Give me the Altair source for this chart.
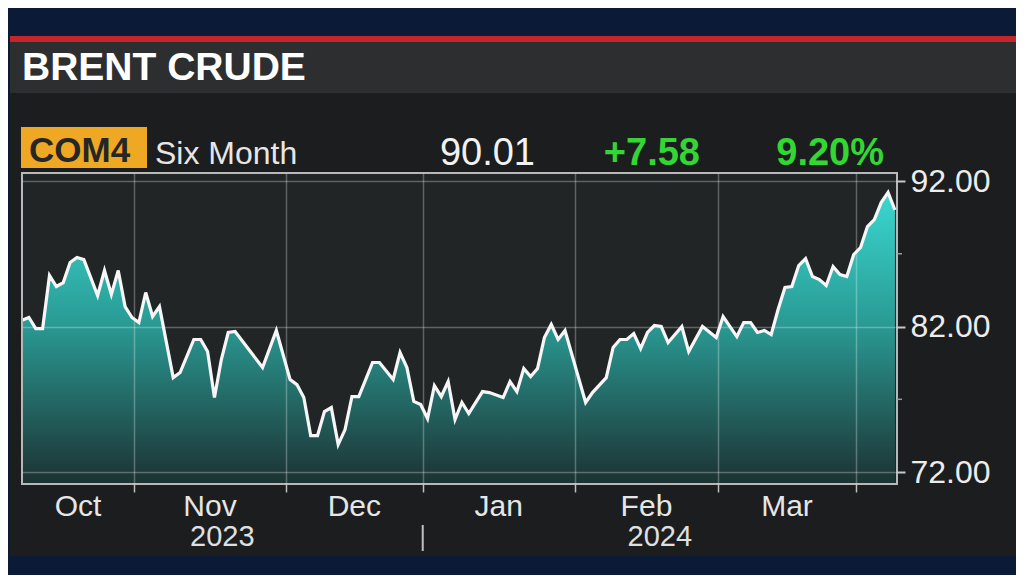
import altair as alt
import pandas as pd

# ---- data (trading-session index, Brent price) ----
day = [0, 1, 2, 3, 4, 5, 6, 7, 8, 9, 11, 12, 13, 14, 15, 16, 17, 18, 19, 20,
       22, 23, 25, 26, 27, 28, 29, 30, 31, 35, 37, 39, 40, 41, 42, 43, 44, 45,
       46, 47, 48, 49, 51, 52, 54, 55, 56, 57, 58, 59, 60, 61, 62, 63, 64, 65,
       67, 68, 70, 71, 72, 73, 74, 75, 76, 77, 78, 79, 82, 83, 85, 86, 87, 88,
       89, 90, 91, 92, 93, 94, 96, 97, 99, 101, 102, 104, 105, 106, 107, 108,
       109, 110, 111, 112, 113, 114, 115, 116, 117, 118, 119, 120, 121, 122,
       123, 124, 125, 126, 127]
price = [82.43, 82.62, 81.86, 81.86, 85.51, 84.75, 85.02, 86.40, 86.74, 86.60,
         84.13, 85.85, 84.20, 85.85, 83.37, 82.62, 82.27, 84.34, 82.69, 83.37,
         78.49, 78.84, 81.11, 81.11, 80.28, 77.12, 79.73, 81.59, 81.66, 79.18,
         81.73, 78.36, 78.01, 77.12, 74.51, 74.51, 76.16, 76.43, 73.89, 74.92,
         77.19, 77.19, 79.53, 79.53, 78.36, 80.21, 79.18, 76.85, 76.64, 75.68,
         77.94, 77.19, 78.22, 75.61, 76.78, 76.02, 77.53, 77.46, 77.12, 78.22,
         77.53, 79.11, 78.56, 79.11, 81.24, 82.14, 81.11, 81.73, 76.78, 77.46,
         78.49, 80.56, 81.11, 81.11, 81.52, 80.49, 81.59, 82.07, 82.00, 80.90,
         82.00, 80.28, 82.00, 81.24, 82.69, 81.31, 82.27, 82.27, 81.59, 81.73,
         81.45, 83.17, 84.68, 84.75, 86.19, 86.67, 85.44, 85.23, 84.82, 86.12,
         85.57, 85.44, 86.95, 87.43, 88.87, 89.35, 90.52, 91.21, 90.01]

month_names = ["Oct", "Nov", "Dec", "Jan", "Feb", "Mar"]
month_starts = [0, 16.3, 38.4, 58.3, 80.4, 101.3, 121.3]   # session index of each month start
year_names = ["2023", "2024"]
year_starts = [0, 58.3, 127.3]
y_ticks = [72, 82, 92]
y_minor_ticks = [77, 87]

title_text = "BRENT CRUDE"
ticker_text = "COM4"
period_text = "Six Month"
last_text = "90.01"
change_text = "+7.58"
pct_text = "9.20%"

x_domain = [0, 127.3]
y_domain = [71.18, 92.55]

W, H = 875, 311
FONT = "Liberation Sans"

# ---- tables ----
df = pd.DataFrame({"day": day, "price": price})
months = pd.DataFrame({
    "label": month_names,
    "mid": [(month_starts[i] + month_starts[i + 1]) / 2 for i in range(len(month_names))],
})
years = pd.DataFrame({
    "label": year_names,
    "mid": [(year_starts[i] + year_starts[i + 1]) / 2 for i in range(len(year_names))],
})
minor = pd.DataFrame({"v": y_minor_ticks})
one = pd.DataFrame({"k": [0]})

xs = alt.Scale(domain=x_domain, nice=False, zero=False)
ys = alt.Scale(domain=y_domain, nice=False, zero=False)

x_axis = alt.Axis(values=month_starts[1:], labels=False, domain=False,
                  grid=True, gridColor="#ffffff", gridOpacity=0.28, gridWidth=1.5,
                  ticks=True, tickSize=8, tickColor="#bdbdbd", tickWidth=1.5,
                  zindex=1)
y_axis = alt.Axis(orient="right", values=y_ticks, format=".2f", domain=False,
                  grid=True, gridColor="#ffffff", gridOpacity=0.28, gridWidth=1.5,
                  tickSize=8, tickColor="#c8c8c8", tickWidth=2,
                  labelFont=FONT, labelFontSize=32, labelColor="#ececec",
                  labelPadding=5, zindex=1)


def X(field):
    return alt.X(field, scale=xs, title=None, axis=x_axis)


def Y(field):
    return alt.Y(field, scale=ys, title=None, axis=y_axis)


def rect(x, x2, y, y2, color):
    return alt.Chart(one).mark_rect(color=color).encode(
        x=alt.value(x), x2=alt.value(x2), y=alt.value(y), y2=alt.value(y2))


def label(txt, x, y, size, color="#ececec", weight="normal", align="left"):
    return alt.Chart(pd.DataFrame({"t": [txt]})).mark_text(
        font=FONT, fontSize=size, fontWeight=weight, color=color,
        align=align, baseline="alphabetic").encode(
        x=alt.value(x), y=alt.value(y), text="t:N")


panel = rect(-12, 996, -80, 383, "#1b1d1e")
redbar = rect(-12, 996, -137, -131, "#c4262c")
titlebar = rect(-12, 996, -131, -80, "#2c2e2f")
plotbg = rect(0, W, 0, H, "#222526")

gradient = alt.Gradient(
    gradient="linear", x1=0, x2=0, y1=0, y2=1,
    stops=[alt.GradientStop(offset=0, color="#3ad8d1"),
           alt.GradientStop(offset=0.45, color="#2a9a94"),
           alt.GradientStop(offset=1, color="#1c3232")])

area = alt.Chart(df).mark_area(color=gradient).encode(
    x=X("day:Q"), y=Y("price:Q"), y2=alt.datum(y_domain[0]))
line = alt.Chart(df).mark_line(color="#f6f6f6", strokeWidth=3.2).encode(
    x=X("day:Q"), y=Y("price:Q"))

frame = alt.Chart(one).mark_rect(fillOpacity=0, stroke="#b8b8b8", strokeWidth=2).encode(
    x=alt.value(0), x2=alt.value(W), y=alt.value(0), y2=alt.value(H))

minor_ticks = alt.Chart(minor).mark_rule(color="#9a9a9a", strokeWidth=1.5).encode(
    x=alt.value(W), x2=alt.value(W + 5), y=Y("v:Q"))

combox = rect(-1, 125, -46, -5, "#efa823")

month_text = alt.Chart(months).mark_text(
    font=FONT, fontSize=30, color="#e6e6e6", align="center", baseline="alphabetic").encode(
    x=X("mid:Q"), y=alt.value(343), text="label:N")
year_text = alt.Chart(years).mark_text(
    font=FONT, fontSize=29, color="#e0e0e0", align="center", baseline="alphabetic").encode(
    x=X("mid:Q"), y=alt.value(373), text="label:N")
sep = alt.Chart(pd.DataFrame({"d": [year_starts[1]]})).mark_rule(
    color="#c0c0c0", strokeWidth=2).encode(
    x=X("d:Q"), y=alt.value(352), y2=alt.value(378))

chart = alt.layer(
    panel, redbar, titlebar, plotbg, area, line, frame, minor_ticks, combox,
    label(title_text, 0, -93, 39, color="#ffffff", weight="bold"),
    label(ticker_text, 7, -11, 35, color="#262626", weight="bold"),
    label(period_text, 133, -9, 32, color="#e6e6e6"),
    label(last_text, 513, -8, 38, color="#f2f2f2", align="right"),
    label(change_text, 678, -8, 38, color="#33d633", weight="bold", align="right"),
    label(pct_text, 862, -8, 38, color="#33d633", weight="bold", align="right"),
    month_text, year_text, sep,
).properties(
    width=W, height=H,
    background="#0b1a36",
    padding={"left": 14, "top": 165, "right": 119, "bottom": 91},
    autosize=alt.AutoSizeParams(type="none"),
).configure_view(strokeWidth=0)

chart.save("out.html", embed_options={"renderer": "svg", "actions": False})
